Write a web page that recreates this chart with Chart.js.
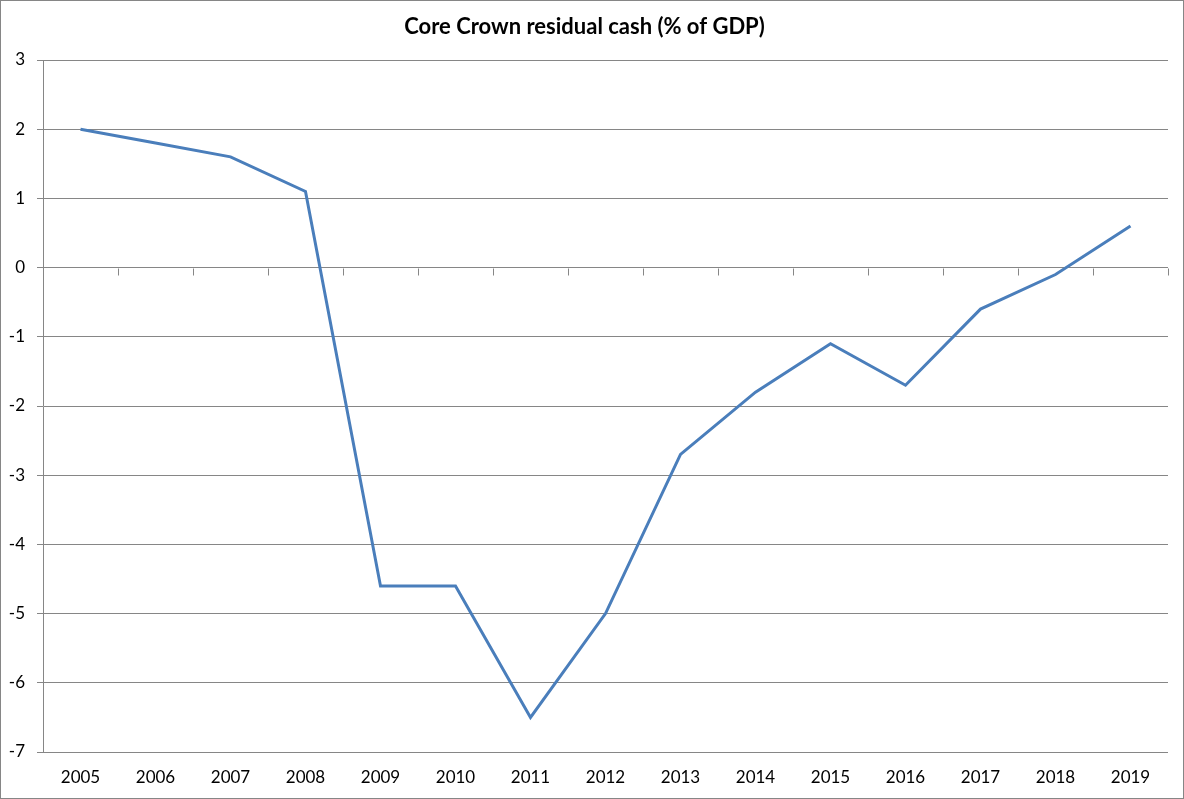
<!DOCTYPE html>
<html>
<head>
<meta charset="utf-8">
<script src="https://cdn.jsdelivr.net/npm/chart.js@4"></script>
<style>
  html, body { margin: 0; padding: 0; background: #fff; }
  #wrap { width: 1184px; height: 799px; box-sizing: border-box; border: 1px solid #868686; }
  canvas { display: block; }
</style>
</head>
<body>
<div id="wrap"><canvas id="chart" width="1182" height="797"></canvas></div>
<script>
// data
const years = ["2005","2006","2007","2008","2009","2010","2011","2012","2013","2014","2015","2016","2017","2018","2019"];
const residualCash = [2.0, 1.8, 1.6, 1.1, -4.6, -4.6, -6.5, -5.0, -2.7, -1.8, -1.1, -1.7, -0.6, -0.1, 0.6];
const yMin = -7, yMax = 3, yStep = 1;

const gridGrey = "#868686";
const fontFamily = "Lato, 'Open Sans', 'Liberation Sans', sans-serif";

// tick marks on the zero line between categories (axis crosses at 0, labels low)
const zeroTicks = {
  id: "zeroTicks",
  afterDatasetsDraw(chart) {
    const { ctx, scales: { x, y } } = chart;
    const y0 = Math.round(y.getPixelForValue(0)) + 0.5;
    ctx.save();
    ctx.strokeStyle = gridGrey;
    ctx.lineWidth = 1;
    ctx.beginPath();
    for (let i = 1; i <= years.length; i++) {
      const px = Math.round(x.getPixelForValue(i - 0.5)) + 0.5;
      ctx.moveTo(px, y0);
      ctx.lineTo(px, y0 + 7);
    }
    ctx.stroke();
    ctx.restore();
  }
};

new Chart(document.getElementById("chart"), {
  type: "line",
  data: {
    labels: years,
    datasets: [{
      label: "Core Crown residual cash",
      data: residualCash,
      borderColor: "#4a7ebb",
      borderWidth: 3,
      pointRadius: 0,
      tension: 0,
      fill: false
    }]
  },
  options: {
    responsive: false,
    animation: false,
    layout: { padding: { left: 0, right: 15, top: 0, bottom: 0 } },
    plugins: {
      legend: { display: false },
      tooltip: { enabled: false },
      title: {
        display: true,
        text: "Core Crown residual cash (% of GDP)",
        color: "#000",
        font: { family: fontFamily, size: 22, weight: "bold" },
        padding: { top: 13, bottom: 19.6 }
      }
    },
    scales: {
      x: {
        offset: true,
        grid: { display: false, drawTicks: false },
        border: { display: false },
        ticks: { color: "#000", font: { family: fontFamily, size: 17 }, padding: 15, maxRotation: 0 },
        afterFit: s => { s.height = 46; }
      },
      y: {
        min: yMin,
        max: yMax,
        grid: { color: gridGrey, lineWidth: 1, drawTicks: true, tickLength: 6 },
        border: { display: true, color: gridGrey, width: 1 },
        ticks: { stepSize: yStep, color: "#000", font: { family: fontFamily, size: 17 }, padding: 12 },
        afterFit: s => { s.width = 42; }
      }
    }
  },
  plugins: [zeroTicks]
});
</script>
</body>
</html>
